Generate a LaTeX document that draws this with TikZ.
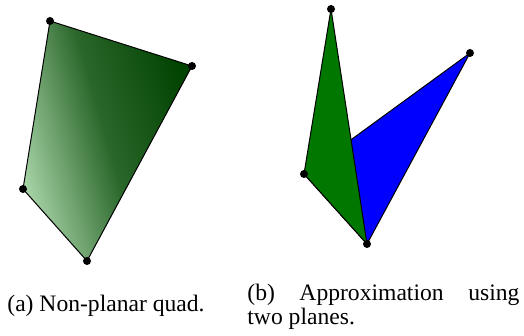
\documentclass[tikz,border=0pt]{standalone}
\usepackage{fontspec}
\setmainfont{Liberation Serif}
\definecolor{quaddark}{RGB}{0,66,0}
\definecolor{quadlight}{RGB}{168,212,168}
\definecolor{planegreen}{RGB}{0,120,0}
\definecolor{planeblue}{RGB}{0,0,255}

\begin{document}
\begin{tikzpicture}[
				x=0.5pt, y=-0.5pt,
				face/.style={draw=black, line width=0.5pt, line join=round},
				caption/.style={font=\fontsize{11.8}{12}\selectfont, inner sep=0pt, anchor=base west}
				]
				\useasboundingbox (0,0) rectangle (524,336);
				
				% (a) 四边形
				\coordinate (a1) at (50,21);
				\coordinate (a2) at (192,66);
				\coordinate (a3) at (87,261);
				\coordinate (a4) at (23,189);
				\shadedraw[face, left color=quadlight, right color=quaddark,
				middle color=quaddark!75!quadlight, shading angle=106]
				(a1) -- (a2) -- (a3) -- (a4) -- cycle;
				
				% (b) 两个平面
				\coordinate (b1) at (331,9);
				\coordinate (b2) at (470,53);
				\coordinate (b3) at (367,244);
				\coordinate (b4) at (304,174);
				\filldraw[face, fill=planeblue] (b4) -- (b2) -- (b3) -- cycle;
				\filldraw[face, fill=planegreen] (b1) -- (b4) -- (b3) -- cycle;
				
				% 顶点
				\foreach \p in {a1,a2,a3,a4,b1,b2,b3,b4}
				\fill (\p) circle (4);
				
				% 标题
				\node[caption] (capa) at (7,311) {(a) Non-planar quad.};
				\node[caption, text width=136pt, align=justify] (capb) at (247,300)
				{(b) Approximation using\linebreak two planes.};
				
			\end{tikzpicture}
\end{document}
